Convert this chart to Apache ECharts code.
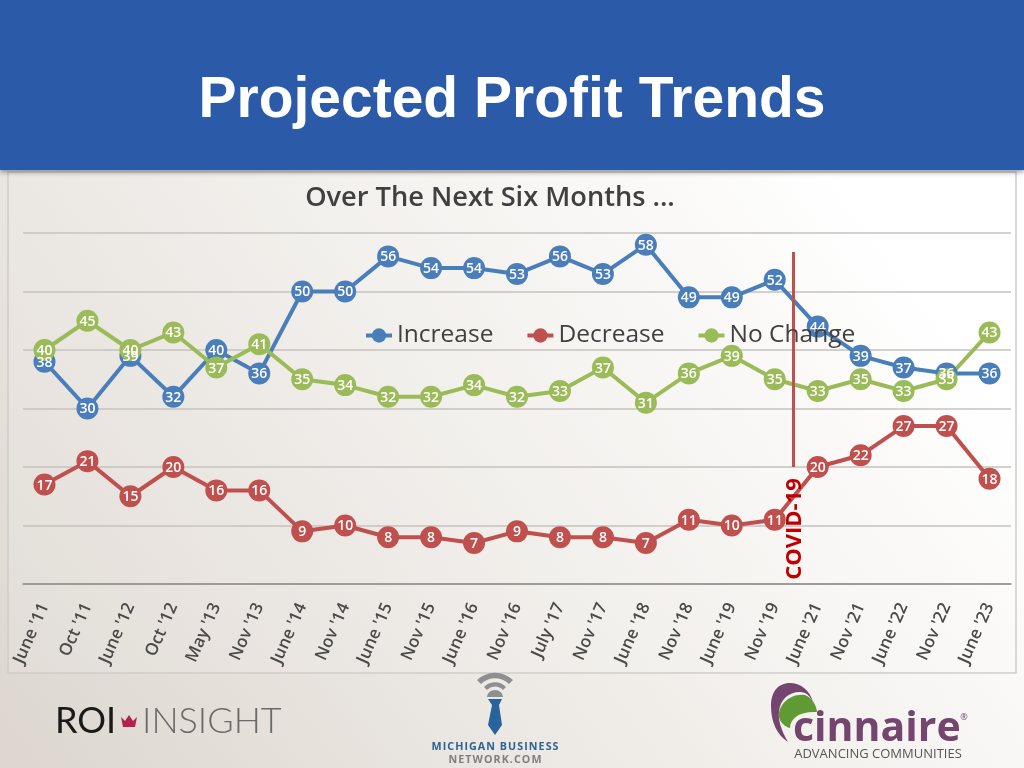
<!DOCTYPE html>
<html><head><meta charset="utf-8">
<style>html,body{margin:0;padding:0;background:#f4f2ee}#c{width:1024px;height:768px}</style>
<script src="https://cdn.jsdelivr.net/npm/echarts@6/dist/echarts.min.js"></script>
</head><body><div id="c"></div>
<script>
const categories = ["June '11","Oct '11","June '12","Oct '12","May '13","Nov '13","June '14","Nov '14","June '15","Nov '15","June '16","Nov '16","July '17","Nov '17","June '18","Nov '18","June '19","Nov '19","June '21","Nov '21","June '22","Nov '22","June '23"];
const increase = [38,30,39,32,40,36,50,50,56,54,54,53,56,53,58,49,49,52,44,39,37,36,36];
const decrease = [17,21,15,20,16,16,9,10,8,8,7,9,8,8,7,11,10,11,20,22,27,27,18];
const noChange = [40,45,40,43,37,41,35,34,32,32,34,32,33,37,31,36,39,35,33,35,33,35,43];
const FONT = '"Open Sans"';
const bgGrad = new echarts.graphic.LinearGradient(0,1,1,0,[{offset:0,color:'#dcd6cf'},{offset:.45,color:'#f1eeea'},{offset:.8,color:'#ffffff'},{offset:1,color:'#ffffff'}]);
function shape(name,d){echarts.graphic.registerShape(name,echarts.graphic.extendPath(d,{}));return name;}
const sCrown=shape('sCrown','M121 717 L125 721 L129 715 L133 721 L137 717 L135 727 L123 727 Z');
const sWifi=shape('sWifi','M477 680 A26 26 0 0 1 513 680 L509 684 A20 20 0 0 0 481 684 Z M484 687 A15 15 0 0 1 506 687 L503 690 A11 11 0 0 0 487 690 Z M487 697 A8 7 0 0 1 503 697 Z');
const sTie=shape('sTie','M488 699 L502 699 L499 705 L502 725 L495 735 L488 725 L492 705 Z');
const sPurple=shape('sPurple','M790 683 C778 683 771 692 771 706 C771 722 777 735 788 742 C781 730 778 720 779 712 C780 700 788 692 800 692 C806 692 810 696 813 702 C810 690 800 683 790 683 Z');
const sGreen=shape('sGreen','M805 695 C790 693 778 705 779 717 C780 722 785 727 790 728 C790 718 800 711 817 712 C816 704 812 698 805 695 Z');
const spaced=s=>s.split('').join('\u200a');
function mk(name,data,color){return {name,type:'line',data,symbol:'circle',symbolSize:22,showSymbol:true,
  lineStyle:{color,width:4},itemStyle:{color,borderWidth:0},
  label:{show:true,position:'inside',offset:[0,1],color:'#fff',fontFamily:FONT,fontSize:14,fontWeight:600,textBorderWidth:0},animation:false,z:3};}
const chart = echarts.init(document.getElementById('c'),null,{renderer:'canvas'});
chart.setOption({
  animation:false,
  backgroundColor:bgGrad,
  legend:{left:359,top:318,itemWidth:26,itemHeight:18,itemGap:32,z:20,
    lineStyle:{width:4},
    textStyle:{fontFamily:FONT,fontSize:24.5,color:'#404040'},
    data:['Increase','Decrease','No Change']},
  grid:{left:23,right:13,top:233,bottom:184,containLabel:false},
  xAxis:{type:'category',data:categories,boundaryGap:true,
    axisLine:{show:true,lineStyle:{color:'#8c8c88',width:1.5}},axisTick:{show:false},
    axisLabel:{interval:0,rotate:66,fontFamily:FONT,fontSize:17,fontWeight:600,color:'#4a4a48',margin:20,padding:[8,0,0,0]}},
  yAxis:{type:'value',min:0,max:60,interval:10,axisLabel:{show:false},axisLine:{show:false},axisTick:{show:false},
    splitLine:{lineStyle:{color:'#c4c2bf',width:1.5}}},
  series:[mk('Decrease',decrease,'#C0504D'),mk('Increase',increase,'#4A7EBB'),mk('No Change',noChange,'#9BBB59')],
  graphic:{elements:[
    {type:'rect',z:-5,silent:true,shape:{x:8,y:172,width:1008,height:501},style:{fill:'rgba(255,255,255,0.12)',stroke:'#cfcdc9',lineWidth:1.5}},
    {type:'rect',z:-4,silent:true,shape:{x:0,y:0,width:1024,height:170},style:{fill:'#2B5AA9',shadowColor:'rgba(60,60,60,.55)',shadowBlur:5,shadowOffsetY:2}},
    {type:'text',z:10,silent:true,style:{x:512,y:101,text:'Projected Profit Trends',align:'center',verticalAlign:'middle',fill:'#fff',font:'bold 57px "Liberation Sans"',shadowColor:'rgba(15,35,80,.75)',shadowBlur:4,shadowOffsetX:2,shadowOffsetY:3}},
    {type:'text',z:10,silent:true,style:{x:490,y:198,text:'Over The Next Six Months ...',align:'center',verticalAlign:'middle',fill:'#404040',font:'600 27.2px '+FONT}},
    {type:'line',z:4,silent:true,shape:{x1:793.5,y1:252,x2:793.5,y2:467},style:{stroke:'#C0504D',lineWidth:3}},
    {type:'text',z:10,silent:true,x:795,y:529,rotation:Math.PI/2,style:{text:'COVID-19',align:'center',verticalAlign:'middle',fill:'#C00000',font:'bold 22px '+FONT}},
    {type:'text',z:5,silent:true,style:{x:55,y:721,text:'ROI',verticalAlign:'middle',fill:'#1a1a1a',font:'400 36px Lato'}},
    {type:sCrown,z:5,silent:true,shape:{},style:{fill:'#B5214E'}},
    {type:'text',z:5,silent:true,style:{x:142,y:721,text:'INSIGHT',verticalAlign:'middle',fill:'#6a6a6a',font:'300 36px Lato'}},
    {type:sWifi,z:5,silent:true,shape:{},style:{fill:'#8f8f8f'}},
    {type:sTie,z:5,silent:true,shape:{},style:{fill:'#26649B'}},
    {type:'text',z:5,silent:true,style:{x:495,y:747,text:spaced('MICHIGAN BUSINESS'),align:'center',verticalAlign:'middle',fill:'#2D6391',font:'bold 10.7px "Open Sans"'}},
    {type:'text',z:5,silent:true,style:{x:495,y:760,text:spaced('NETWORK.COM'),align:'center',verticalAlign:'middle',fill:'#7f7f7f',font:'bold 10.7px "Open Sans"'}},
    {type:sPurple,z:5,silent:true,shape:{},style:{fill:'#74466F'}},
    {type:sGreen,z:5,silent:true,shape:{},style:{fill:'#5F9A35'}},
    {type:'text',z:5,silent:true,style:{x:793,y:729,text:'cinnaire',verticalAlign:'middle',fill:'#74466F',font:'bold 41px "Open Sans"'}},
    {type:'text',z:5,silent:true,style:{x:964,y:717,text:'®',align:'center',verticalAlign:'middle',fill:'#74466F',font:'9px "Open Sans"'}},
    {type:'text',z:5,silent:true,style:{x:878,y:754,text:'ADVANCING COMMUNITIES',align:'center',verticalAlign:'middle',fill:'#555',font:'13px "Open Sans"'}}
  ]}
});
</script></body></html>
